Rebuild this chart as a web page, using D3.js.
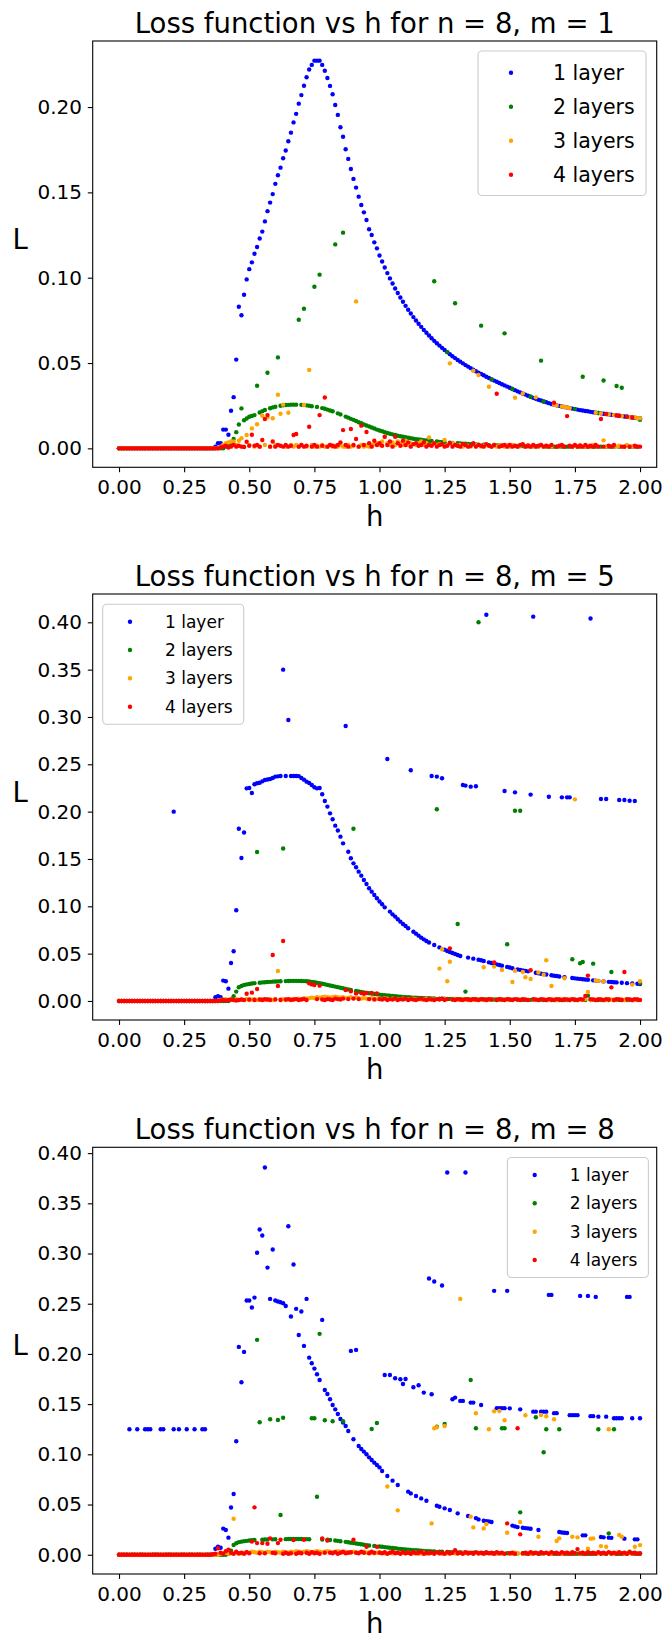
<!DOCTYPE html>
<html>
<head>
<meta charset="utf-8">
<script src="https://cdn.jsdelivr.net/npm/d3@7"></script>
<style>
  body { margin: 0; background: #fff; }
  svg { display: block; font-family: "DejaVu Sans", sans-serif; }
</style>
</head>
<body>
<svg id="chart"></svg>
<script>
// h is sampled every 0.01 from 0 to 2
const hValues = d3.range(0, 201).map(i => i / 100);
const xTicks = [0, 0.25, 0.5, 0.75, 1, 1.25, 1.5, 1.75, 2];
const yTicksM1 = [0, 0.05, 0.1, 0.15, 0.2];
const yTicksWide = [0, 0.05, 0.1, 0.15, 0.2, 0.25, 0.3, 0.35, 0.4];
const seriesNames = ["1 layer", "2 layers", "3 layers", "4 layers"];
const seriesColors = ["blue", "green", "orange", "red"];

// ---- m = 1 ----
const m1Layer1 = [
  0,0,0,0,0,0,0,0,0,0,
  0,0,0,0,0,0,0,0,0,0,
  0,0,0,0,0,0,0,0,0,0,
  0,0,0,0,0,0,0,.001,.003,.003,
  .011,.011,.008,.022,.030,.052,.083,.078,.090,.099,
  .1050,.1090,.1140,.1180,.1230,.1270,.1330,.1390,.1440,.1490,
  .1550,.1600,.1645,.1700,.1745,.1800,.1850,.1910,.1960,.2020,
  .2070,.2125,.2175,.2220,.2247,.2272,.2272,.2272,.2247,.2213,
  .2170,.2124,.2075,.2012,.1954,.1882,.1826,.1753,.1696,.1637,
  .1579,.1528,.1475,.1426,.1383,.1338,.1284,.1250,.1207,.1172,
  .1130,.1095,.1060,.1027,.0996,.0966,.0937,.0910,.0884,.0859,
  .0835,.0812,.0790,.0769,.0749,.0730,.0712,.0694,.0677,.0661,
  .0645,.0630,.0616,.0602,.0589,.0576,.0564,.0552,.0540,.0529,
  .0518,.0508,.0498,.0488,.0479,.0470,.0461,.0452,.0444,.0436,
  .0428,.0420,.0412,.0404,.0397,.0390,.0383,.0376,.0369,.0362,
  .0355,.0348,.0341,.0334,.0328,.0321,.0315,.0308,.0302,.0296,
  .0290,.0285,.0280,.0275,.0270,.0265,.0260,.0256,.0252,.0249,
  .0245,.0242,.0239,.0236,.0233,.0230,.0227,.0224,.0222,.0219,
  .0217,.0214,.0212,.0209,.0207,.0205,.0203,.0201,.0199,.0197,
  .0195,.0193,.0191,.0189,.0187,.0185,.0183,.0181,.0179,.0177,
  .0176
];
const m1Layer2 = [
  0,0,0,0,0,0,0,0,0,0,
  0,0,0,0,0,0,0,0,0,0,
  0,0,0,0,0,0,0,0,0,0,
  0,0,0,0,0,0,0,0,0,0,
  0,.001,.0015,.002,.0055,.0095,.014,.0234,.0165,.0175,
  .0185,.019,.0195,.0367,.021,.0218,.0225,.0443,.0235,.024,
  .0244,.0533,.025,.0252,.0254,.0255,.0256,.0256,.0256,.0754,
  .0255,.0818,.0252,.025,.0247,.0947,.0243,.1018,.0236,.0232,
  .0227,.0222,.0217,.1195,.0205,.0199,.1264,.0186,.018,.0173,
  .0167,.016,.0153,.0147,.014,.0134,.0128,.0122,.0116,.011,
  .0105,.01,.0095,.009,.0086,.0082,.0078,.0074,.0071,.0068,
  .0065,.0062,.0059,.0056,.0054,.0052,.005,.0048,.0046,.0044,
  .0043,.0979,.004,.0038,.0037,.0035,.0564,.0033,.0032,.085,
  .003,.0029,.0028,.0027,.0026,.0025,.0024,.0023,.0022,.0719,
  .0021,.002,.0019,.0404,.0018,.0017,.0017,.0016,.0674,.0015,
  .0015,.0348,.0014,.0014,.0013,.0013,.0013,.0012,.0302,.0012,
  .0012,.0011,.0514,.0275,.0011,.001,.001,.001,.001,.001,
  .001,.001,.001,.001,.001,.023,.001,.001,.042,.001,
  .001,.001,.001,.001,.0207,.001,.0398,.001,.001,.001,
  .001,.0365,.001,.0355,.001,.0185,.001,.001,.001,.001,
  .0168
];
const m1Layer3 = [
  0,0,0,0,0,0,0,0,0,0,
  0,0,0,0,0,0,0,0,0,0,
  0,0,0,0,0,0,0,0,0,0,
  0,0,0,0,0,0,0,0,0,.001,
  .002,.003,.0035,.004,.004,.002,.0045,.0059,.001,.0078,
  .002,.0117,.001,.0141,.001,.0191,.002,.0182,.001,.0176,
  .002,.0314,.0203,.0256,.001,.0209,.002,.001,.002,.001,
  .002,.0254,.001,.0459,.002,.001,.0015,.001,.002,.001,
  .001,.002,.001,.0015,.001,.002,.001,.001,.002,.001,
  .0015,.0861,.001,.002,.001,.0015,.001,.002,.0025,.003,
  .002,.004,.0068,.003,.002,.0035,.002,.004,.003,.002,
  .0045,.002,.003,.0025,.002,.003,.004,.002,.003,.0064,
  .002,.003,.002,.0025,.002,.0049,.002,.0498,.003,.002,
  .0015,.002,.001,.002,.0015,.001,.0455,.002,.043,.001,
  .0015,.002,.0361,.001,.002,.001,.0015,.002,.001,.0015,
  .001,.002,.0297,.001,.0015,.0322,.001,.002,.001,.0015,
  .0299,.001,.002,.001,.0015,.001,.001,.0256,.0252,.001,
  .0245,.0242,.0239,.0236,.001,.0015,.001,.002,.001,.001,
  .0015,.001,.002,.0209,.001,.0205,.0047,.001,.0199,.001,
  .0195,.001,.0015,.0189,.001,.002,.0183,.001,.0182,.0177,
  .0176
];
const m1Layer4 = [
  0,0,0,0,0,0,0,0,0,0,
  0,0,0,0,0,0,0,0,0,0,
  0,0,0,0,0,0,0,0,0,0,
  0,0,0,0,0,0,0,0,0,.0005,
  .001,.0015,.0005,.001,.002,.001,.0015,.001,.0008,.0039,
  .0015,.008,.0015,.002,.001,.0049,.0172,.0195,.001,.004,
  .001,.002,.0015,.001,.002,.001,.0015,.0078,.0084,.001,
  .002,.001,.0015,.0127,.001,.002,.001,.0195,.0015,.0298,
  .001,.002,.0015,.001,.002,.0035,.0107,.002,.001,.0113,
  .002,.0055,.001,.0133,.002,.0096,.003,.001,.0045,.002,
  .003,.0015,.0068,.002,.004,.001,.0068,.003,.0015,.0045,
  .002,.0035,.001,.0025,.003,.0015,.002,.0035,.001,.002,
  .0015,.003,.001,.002,.0025,.001,.0015,.003,.001,.002,
  .0015,.001,.0025,.002,.001,.0015,.003,.001,.002,.0015,
  .001,.0025,.0015,.001,.002,.032,.001,.0015,.002,.001,
  .002,.001,.0015,.001,.002,.0025,.001,.0015,.001,.002,
  .001,.0015,.002,.001,.0015,.001,.002,.0267,.001,.0015,
  .002,.001,.0189,.0015,.001,.002,.001,.0015,.001,.002,
  .001,.0015,.001,.002,.001,.0172,.001,.0201,.0015,.001,
  .002,.0193,.0191,.001,.001,.0185,.001,.0181,.0015,.001,
  .001
];

// ---- m = 5 ----
const m5Layer1 = [
  0,0,0,0,0,0,0,0,0,0,
  0,0,0,0,0,0,0,0,0,0,
  0,.2,0,0,0,0,0,0,0,0,
  0,0,0,0,0,0,0,.004,.005,.004,
  .0215,.0208,.013,.0401,.0525,.0958,.182,.151,.178,.2246,
  .225,.2197,.229,.230,.2305,.232,.2335,.234,.2345,.2355,
  .237,.2373,.2377,.35,.2377,.2968,.2377,.2377,.2377,.2375,
  .2356,.2338,.2317,.2303,.2282,.2257,.2246,.225,.2183,.2113,
  .2053,.1982,.1919,.1852,.18,.1736,.1665,.2905,.1577,.1507,
  .1454,.1412,.1366,.1324,.1278,.1236,.119,.1155,.112,.1085,
  .105,.1021,.0989,.2556,.0944,.0915,.0891,.0863,.0838,.0813,
  .0792,.0768,.2437,.0732,.0711,.069,.0669,.0651,.0634,.0618,
  .2377,.0592,.237,.0566,.2352,.0542,.0528,.0518,.0507,.0496,
  .0486,.0475,.2282,.2275,.0458,.2264,.0447,.2268,.0436,.043,
  .0422,.408,.0408,.0401,.0394,.0387,.038,.0373,.2218,.036,
  .0353,.0346,.2204,.0334,.0328,.0323,.0318,.0313,.218,.406,
  .0298,.0293,.0288,.0284,.028,.2158,.0271,.0267,.0263,.0259,
  .2151,.0252,.2151,.2151,.0242,.0239,.0236,.0233,.023,.0227,
  .0224,.404,.0218,.0215,.0212,.2134,.0207,.2134,.0202,.02,
  .0198,.0196,.2123,.0192,.2123,.0188,.2115,.0185,.2113,.0182,
  .018
];
const m5Layer2 = [
  0,0,0,0,0,0,0,0,0,0,
  0,0,0,0,0,0,0,0,0,0,
  0,0,0,0,0,0,0,0,0,0,
  0,0,0,0,0,0,0,0,0,0,
  0,0,0,.001,.005,.0099,.0145,.0158,.0168,.0175,
  .018,.0184,.0188,.1574,.0193,.0196,.0198,.02,.0202,.0204,
  .0205,.0207,.0208,.161,.021,.0211,.0212,.0212,.0212,.0212,
  .0211,.021,.0208,.0205,.0202,.0198,.0193,.0188,.0182,.0176,
  .017,.0164,.0158,.0152,.0146,.014,.0134,.0128,.0122,.0116,
  .182,.0105,.01,.0095,.009,.0086,.0082,.0078,.0074,.007,
  .0067,.0064,.0061,.0058,.0055,.0052,.005,.0047,.0045,.0043,
  .0041,.0039,.0037,.0035,.0034,.0032,.0031,.003,.0029,.0028,
  .0027,.0026,.2025,.0025,.0024,.0023,.0022,.0022,.0021,.0021,
  .0813,.002,.002,.0099,.0019,.0019,.0018,.0018,.40,.0017,
  .0017,.0016,.0016,.0016,.0015,.0015,.0015,.0014,.0014,.0599,
  .0014,.0013,.201,.0013,.201,.0013,.0012,.0012,.0012,.0012,
  .0012,.0011,.0011,.0011,.0011,.0011,.001,.001,.001,.001,
  .001,.001,.001,.001,.044,.001,.001,.0398,.0412,.001,
  .0056,.001,.0394,.001,.001,.001,.001,.001,.001,.0306,
  .001,.001,.001,.001,.001,.001,.001,.001,.001,.001,
  .019
];
const m5Layer3 = [
  0,0,0,0,0,0,0,0,0,0,
  0,0,0,0,0,0,0,0,0,0,
  0,0,0,0,0,0,0,0,0,0,
  0,0,0,0,0,0,0,0,0,.001,
  .0015,.002,.001,.0015,.001,.002,.001,.0015,.001,.002,
  .001,.0015,.002,.001,.0015,.002,.001,.0015,.002,.001,
  .002,.0317,.0015,.002,.001,.0015,.002,.0015,.002,.0025,
  .002,.003,.0025,.003,.0035,.003,.004,.0035,.004,.0045,
  .004,.0035,.004,.0045,.004,.0035,.004,.003,.0035,.004,
  .003,.0035,.003,.0025,.003,.0025,.002,.003,.0025,.002,
  .0025,.002,.003,.0025,.002,.0025,.002,.0015,.002,.0025,
  .002,.0015,.002,.0025,.0015,.002,.0015,.002,.0025,.0015,
  .002,.0015,.002,.0342,.0546,.002,.0208,.0415,.0015,.002,
  .0015,.001,.002,.0015,.001,.002,.0015,.001,.002,.0015,
  .0356,.001,.0015,.002,.0363,.001,.0015,.0327,.001,.0015,
  .0015,.02,.032,.001,.0015,.0306,.025,.001,.0232,.0015,
  .001,.03,.0015,.0278,.043,.001,.0158,.0015,.001,.002,
  .0015,.024,.001,.0015,.002,.213,.001,.0015,.001,.002,
  .0095,.001,.0015,.0215,.0212,.0015,.0207,.001,.002,.0015,
  .001,.0015,.002,.0015,.001,.002,.0015,.0173,.001,.0015,
  .0208
];
const m5Layer4 = [
  0,0,0,0,0,0,0,0,0,0,
  0,0,0,0,0,0,0,0,0,0,
  0,0,0,0,0,0,0,0,0,0,
  0,0,0,0,0,0,0,0,0,.0005,
  .001,.0005,.001,.0015,.001,.0005,.001,.0015,.001,.0077,
  .0015,.0088,.001,.0127,.0015,.001,.002,.0015,.001,.0486,
  .0015,.0158,.001,.0634,.0015,.002,.001,.0015,.002,.001,
  .0015,.002,.001,.0187,.0175,.0169,.002,.0162,.0015,.001,
  .002,.0015,.001,.0025,.002,.0015,.0025,.0116,.002,.0102,
  .0025,.008,.002,.0085,.0075,.0085,.002,.0085,.0015,.008,
  .002,.0015,.0025,.001,.002,.0015,.0025,.001,.002,.0015,
  .0025,.001,.002,.0015,.001,.002,.0025,.0015,.001,.002,
  .0015,.001,.002,.0015,.0025,.001,.002,.0556,.0015,.001,
  .002,.0015,.001,.002,.0015,.001,.002,.0015,.001,.002,
  .0015,.001,.002,.0015,.0408,.001,.002,.0015,.001,.002,
  .0015,.001,.002,.0015,.001,.002,.0015,.001,.0324,.002,
  .0015,.001,.002,.0015,.001,.002,.0015,.001,.002,.0015,
  .001,.002,.0015,.001,.002,.0015,.001,.002,.0015,.0053,
  .0268,.002,.0015,.001,.002,.0015,.001,.002,.0015,.0144,
  .001,.002,.0015,.001,.0306,.002,.0015,.001,.002,.0015,
  .001
];

// ---- m = 8 ----
const m8Layer1 = [
  0,0,0,0,.125,0,0,.125,0,0,
  .125,.125,.125,0,0,0,.125,.125,0,0,
  0,.125,0,.125,0,0,.125,0,0,.125,
  0,0,.125,.125,0,0,0,.006,.008,.007,
  .026,.0246,.017,.047,.0605,.113,.207,.1718,.202,.2532,
  .2532,.2462,.2561,.3007,.3239,.3179,.3857,.286,.2548,.304,
  .2532,.2522,.2515,.2505,.2478,.3272,.2372,.289,.2449,.2189,
  .2422,.208,.2548,.1963,.1907,.1854,.1797,.174,.2339,.1641,
  .1601,.1548,.1492,.1448,.1402,.1352,.1317,.1282,.1233,.203,
  .115,.204,.1083,.1053,.1027,.100,.097,.0944,.0917,.0894,
  .087,.0834,.179,.0784,.179,.0738,.1757,.0695,.1747,.17,
  .175,.0628,.0611,.1668,.0585,.1688,.0561,.1615,.0538,.2751,
  .1598,.2721,.0488,.0478,.2681,.0462,.3807,.0445,.1548,.1565,
  .0412,.1532,.1532,.3807,.0385,.1515,.1515,.0365,.0352,.1492,
  .0339,.0335,.0332,.0326,.2628,.146,.146,.146,.146,.2628,
  .1458,.029,.0282,.0275,.1448,.0269,.0265,.0262,.0258,.1425,
  .1425,.0246,.1425,.1425,.1425,.2588,.2588,.141,.141,.0226,
  .0222,.0219,.0216,.139,.139,.139,.139,.2578,.0193,.0193,
  .2578,.138,.138,.2568,.1375,.0176,.0173,.1375,.017,.0168,
  .136,.136,.136,.136,.016,.2568,.2568,.136,.0153,.0153,
  .136
];
const m8Layer2 = [
  0,0,0,0,0,0,0,0,0,0,
  0,0,0,0,0,0,0,0,0,0,
  0,0,0,0,0,0,0,0,0,0,
  0,0,0,0,0,0,0,0,0,0,
  0,0,.001,.004,.0097,.0115,.0125,.013,.0135,.0138,
  .0141,.0144,.0146,.214,.1319,.015,.0151,.0152,.1349,.0153,
  .0154,.1342,.0395,.1365,.0155,.0156,.0156,.0156,.0156,.0156,
  .0156,.0155,.0155,.0154,.1359,.1359,.0578,.22,.0152,.1339,
  .015,.0147,.1329,.0142,.0138,.0134,.1329,.0128,.0124,.012,
  .0116,.0112,.0108,.0104,.01,.0096,.0092,.1252,.0088,.1312,
  .0082,.0079,.0076,.0073,.007,.0067,.0064,.0061,.0058,.0055,
  .0052,.005,.0048,.0046,.0044,.0042,.004,.0038,.0036,.0034,
  .0033,.0032,.1276,.003,.0029,.1302,.0027,.0026,.0025,.0024,
  .0023,.0022,.0021,.002,.002,.174,.0019,.1259,.0018,.0018,
  .0017,.0017,.0016,.0016,.0015,.0015,.0015,.1259,.1259,.0014,
  .0014,.0014,.0013,.0013,.0422,.0013,.0012,.0012,.0012,.0012,
  .1369,.0012,.0011,.102,.1249,.0011,.0011,.001,.001,.1249,
  .001,.001,.001,.001,.001,.001,.001,.001,.001,.001,
  .001,.001,.001,.001,.1249,.001,.001,.001,.0213,.001,
  .1249,.001,.001,.001,.001,.001,.003,.001,.001,.001,
  .001
];
const m8Layer3 = [
  0,0,0,0,0,0,0,0,0,0,
  0,0,0,0,0,0,0,0,0,0,
  0,0,0,0,0,0,0,0,0,0,
  0,0,0,0,0,0,0,0,0,.001,
  .0015,.002,.001,.0015,.0359,.002,.001,.0015,.002,.0025,
  .002,.003,.0025,.002,.003,.0025,.002,.003,.0025,.002,
  .003,.0025,.002,.003,.0025,.002,.003,.0025,.0035,.003,
  .0025,.003,.0035,.003,.0025,.003,.0035,.003,.0025,.003,
  .0035,.003,.0025,.003,.0035,.003,.0025,.003,.0025,.002,
  .003,.0025,.002,.0025,.003,.002,.0025,.002,.0015,.002,
  .0025,.002,.0015,.068,.002,.0015,.002,.0442,.0015,.002,
  .0015,.002,.001,.0015,.002,.001,.0015,.002,.001,.0015,
  .0312,.1259,.1269,.0015,.001,.1282,.0015,.001,.002,.0015,
  .001,.2548,.0015,.002,.001,.0379,.0272,.1409,.001,.0015,
  .0262,.0306,.1249,.001,.1429,.0015,.1432,.001,.1339,.0219,
  .0015,.001,.002,.0015,.0326,.001,.1389,.0015,.001,.002,
  .0015,.0179,.1392,.001,.1379,.0015,.001,.1349,.0136,.0163,
  .001,.0015,.002,.001,.0179,.0015,.0173,.001,.002,.0015,
  .006,.016,.0163,.001,.0015,.0086,.001,.008,.1249,.0015,
  .001,.002,.0196,.0179,.001,.0015,.002,.001,.008,.0015,
  .0096
];
const m8Layer4 = [
  0,0,0,0,0,0,0,0,0,0,
  0,0,0,0,0,0,0,0,0,0,
  0,0,0,0,0,0,0,0,0,0,
  0,0,0,0,0,0,.0005,.001,.0064,.002,
  .001,.0034,.005,.002,.001,.003,.0015,.002,.001,.0025,
  .0015,.0131,.0472,.0116,.0015,.0116,.0015,.011,.0163,.002,
  .0015,.0116,.0149,.001,.002,.001,.0015,.0146,.001,.002,
  .0015,.0149,.002,.001,.0025,.0015,.002,.001,.0163,.002,
  .0142,.002,.0015,.0025,.001,.002,.003,.0015,.002,.0025,
  .0149,.002,.0015,.003,.002,.008,.0015,.003,.002,.008,
  .002,.0015,.0025,.001,.002,.003,.0015,.002,.001,.0025,
  .0015,.002,.001,.0025,.0015,.002,.003,.001,.002,.0015,
  .002,.001,.0025,.0015,.002,.001,.0025,.0015,.002,.0045,
  .0015,.002,.001,.0025,.0015,.002,.001,.0025,.0015,.002,
  .001,.0025,.0015,.002,.001,.0025,.0015,.002,.001,.0312,
  .0015,.002,.001,.1259,.0203,.0015,.002,.001,.0025,.0015,
  .002,.001,.0025,.0015,.002,.001,.0025,.0015,.002,.001,
  .0025,.0015,.002,.001,.0025,.0015,.0056,.0015,.002,.001,
  .0025,.0015,.002,.001,.0025,.0015,.002,.001,.0025,.0015,
  .002,.001,.0025,.0015,.002,.001,.0025,.0015,.002,.001,
  .0015
];

const W = 667, H = 1639;
const axLeft = 92.7, axRight = 656.7;

const panels = [
  {
    title: "Loss function vs h for n = 8, m = 1",
    series: [m1Layer1, m1Layer2, m1Layer3, m1Layer4],
    yTicks: yTicksM1, yDomain: [-0.0111, 0.2387], top: 41, bottom: 467.3,
    legend: { x: 478, y: 51, w: 168, h: 144.5, rows: [72.7, 106.7, 140.7, 174.7], markX: 511, textX: 553, fs: 20.5 }
  },
  {
    title: "Loss function vs h for n = 8, m = 5",
    series: [m5Layer1, m5Layer2, m5Layer3, m5Layer4],
    yTicks: yTicksWide, yDomain: [-0.0201, 0.4299], top: 594, bottom: 1020,
    legend: { x: 102.7, y: 604.3, w: 141, h: 120, rows: [621.7, 650, 678.3, 706.7], markX: 130, textX: 165, fs: 17 }
  },
  {
    title: "Loss function vs h for n = 8, m = 8",
    series: [m8Layer1, m8Layer2, m8Layer3, m8Layer4],
    yTicks: yTicksWide, yDomain: [-0.0192, 0.4058], top: 1147.3, bottom: 1574,
    legend: { x: 507.4, y: 1157.5, w: 141, h: 120, rows: [1175, 1203.3, 1231.7, 1260], markX: 534.7, textX: 569.7, fs: 17 }
  }
];

panels.forEach(p => p.series.forEach((s, k) => {
  if (s.length !== hValues.length) throw new Error(p.title + " series " + k + " has " + s.length + " values");
}));

const svg = d3.select("#chart").attr("width", W).attr("height", H);
svg.append("rect").attr("width", W).attr("height", H).attr("fill", "#fff");

const x = d3.scaleLinear().domain([-0.101, 2.064]).range([axLeft, axRight]);
const fmt = d3.format(".2f");

panels.forEach(p => {
  const y = d3.scaleLinear().domain(p.yDomain).range([p.bottom, p.top]);
  const g = svg.append("g");

  // points, one layer per series so red ends on top
  p.series.forEach((vals, k) => {
    g.append("g").selectAll("circle")
      .data(vals)
      .join("circle")
      .attr("cx", (d, i) => x(hValues[i]))
      .attr("cy", d => y(d))
      .attr("r", 2.2)
      .attr("fill", seriesColors[k]);
  });

  // axes
  const xAxis = g.append("g")
    .attr("transform", `translate(0,${p.bottom})`)
    .call(d3.axisBottom(x).tickValues(xTicks).tickFormat(fmt).tickSize(4.9).tickPadding(7.6));
  const yAxis = g.append("g")
    .attr("transform", `translate(${axLeft},0)`)
    .call(d3.axisLeft(y).tickValues(p.yTicks).tickFormat(fmt).tickSize(4.9).tickPadding(5.8));
  [xAxis, yAxis].forEach(a => {
    a.select(".domain").remove();
    a.selectAll("line").attr("stroke", "#000").attr("stroke-width", 1.1);
    a.selectAll("text").attr("fill", "#000").style("font-size", "20px").style("font-family", "DejaVu Sans");
  });

  // frame
  g.append("rect")
    .attr("x", axLeft).attr("y", p.top)
    .attr("width", axRight - axLeft).attr("height", p.bottom - p.top)
    .attr("fill", "none").attr("stroke", "#000").attr("stroke-width", 1.1);

  // title and labels
  g.append("text")
    .attr("x", (axLeft + axRight) / 2).attr("y", p.top - 8.5)
    .attr("text-anchor", "middle").style("font-size", "27.5px")
    .text(p.title);
  g.append("text")
    .attr("x", (axLeft + axRight) / 2).attr("y", p.bottom + 59)
    .attr("text-anchor", "middle").style("font-size", "27.5px")
    .text("h");
  g.append("text")
    .attr("x", 12.5).attr("y", (p.top + p.bottom) / 2 - 5.5)
    .style("font-size", "27.5px")
    .text("L");

  // legend
  const lg = p.legend;
  const leg = g.append("g");
  leg.append("rect")
    .attr("x", lg.x).attr("y", lg.y).attr("width", lg.w).attr("height", lg.h)
    .attr("rx", 4).attr("ry", 4)
    .attr("fill", "#fff").attr("fill-opacity", 0.8)
    .attr("stroke", "#cccccc").attr("stroke-width", 1.1);
  seriesNames.forEach((name, k) => {
    leg.append("circle")
      .attr("cx", lg.markX).attr("cy", lg.rows[k]).attr("r", 2.2)
      .attr("fill", seriesColors[k]);
    leg.append("text")
      .attr("x", lg.textX).attr("y", lg.rows[k]).attr("dy", "0.35em")
      .style("font-size", lg.fs + "px")
      .text(name);
  });
});
</script>
</body>
</html>
